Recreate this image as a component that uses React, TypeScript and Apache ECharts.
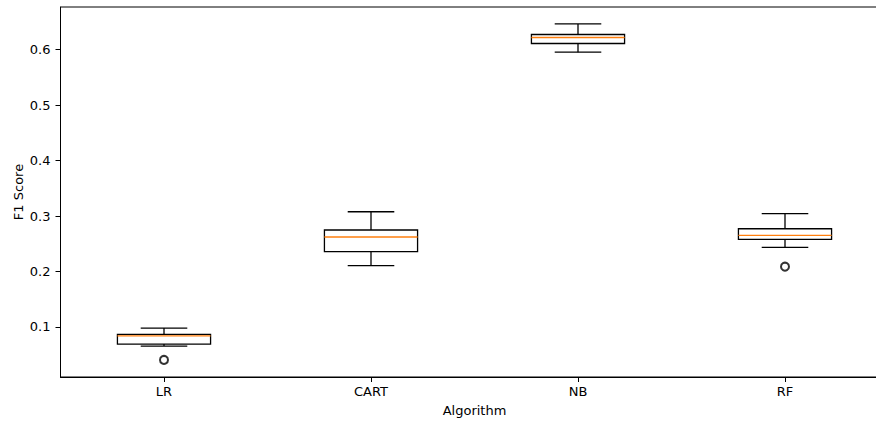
import React, { useEffect, useRef } from "react";
import * as echarts from "echarts";

const categories = ["LR", "CART", "NB", "RF"];
const whiskerLow = [0.0655, 0.2105, 0.5955, 0.2436];
const q1 = [0.069, 0.2357, 0.6112, 0.258];
const median = [0.0838, 0.2622, 0.622, 0.2652];
const q3 = [0.0865, 0.2748, 0.6274, 0.2771];
const whiskerHigh = [0.098, 0.3077, 0.6465, 0.3042];
const outliers: [number, number][] = [
  [0, 0.0405],
  [3, 0.2087],
];
const yTicks = [0.1, 0.2, 0.3, 0.4, 0.5, 0.6];
const yMin = 0.0097;
const yMax = 0.677;

const FONT = "DejaVu Sans";
const FS = 13;

export default function App() {
  const ref = useRef<HTMLDivElement>(null);
  useEffect(() => {
    document.body.style.margin = "0";
    const chart = echarts.init(ref.current!, null, { renderer: "svg" });
    const boxData = categories.map((_, i) => [
      i,
      whiskerLow[i],
      q1[i],
      median[i],
      q3[i],
      whiskerHigh[i],
    ]);
    chart.setOption({
      animation: false,
      backgroundColor: "#fff",
      grid: {
        left: 60.5,
        top: 7,
        width: 828,
        height: 370,
        outerBoundsMode: "none",
        containLabel: false,
        show: true,
        borderColor: "#000",
        borderWidth: 1,
        backgroundColor: "transparent",
      },
      xAxis: {
        type: "category",
        data: categories,
        boundaryGap: true,
        name: "Algorithm",
        nameLocation: "middle",
        nameGap: 27,
        nameMoveOverlap: false,
        nameTextStyle: { fontFamily: FONT, fontSize: FS, color: "#000", verticalAlign: "top" },
        axisLine: { show: true, lineStyle: { color: "#000", width: 1 } },
        axisTick: { show: true, alignWithLabel: true, length: 5, lineStyle: { color: "#000", width: 1 } },
        axisLabel: { fontFamily: FONT, fontSize: FS, color: "#000", margin: 8 },
        splitLine: { show: false },
      },
      yAxis: {
        type: "value",
        min: yMin,
        max: yMax,
        name: "F1 Score",
        nameLocation: "middle",
        nameGap: 36,
        nameRotate: 90,
        nameMoveOverlap: false,
        nameTextStyle: { fontFamily: FONT, fontSize: FS, color: "#000" },
        axisLine: { show: true, lineStyle: { color: "#000", width: 1 } },
        axisTick: {
          show: true,
          length: 5,
          customValues: yTicks,
          lineStyle: { color: "#000", width: 1 },
        },
        axisLabel: {
          fontFamily: FONT,
          fontSize: FS,
          color: "#000",
          margin: 10,
          customValues: yTicks,
          formatter: (v: number) => v.toFixed(1),
        },
        splitLine: { show: false },
      },
      series: [
        {
          type: "custom",
          data: boxData,
          encode: { x: 0, y: [1, 2, 3, 4, 5] },
          renderItem: (params: any, api: any) => {
            const idx = api.value(0);
            const band = api.size([1, 0])[0];
            const bw = band * 0.45;
            const cw = bw / 2;
            const pLo = api.coord([idx, api.value(1)]);
            const pQ1 = api.coord([idx, api.value(2)]);
            const pMed = api.coord([idx, api.value(3)]);
            const pQ3 = api.coord([idx, api.value(4)]);
            const pHi = api.coord([idx, api.value(5)]);
            const cx = pMed[0];
            const black = { stroke: "#000", lineWidth: 1.3, fill: "none" };
            return {
              type: "group",
              children: [
                { type: "line", shape: { x1: cx, y1: pQ1[1], x2: cx, y2: pLo[1] }, style: black },
                { type: "line", shape: { x1: cx, y1: pQ3[1], x2: cx, y2: pHi[1] }, style: black },
                { type: "line", shape: { x1: cx - cw / 2, y1: pLo[1], x2: cx + cw / 2, y2: pLo[1] }, style: black },
                { type: "line", shape: { x1: cx - cw / 2, y1: pHi[1], x2: cx + cw / 2, y2: pHi[1] }, style: black },
                {
                  type: "rect",
                  shape: { x: cx - bw / 2, y: pQ3[1], width: bw, height: pQ1[1] - pQ3[1] },
                  style: black,
                },
                {
                  type: "line",
                  shape: { x1: cx - bw / 2, y1: pMed[1], x2: cx + bw / 2, y2: pMed[1] },
                  style: { stroke: "#ff7f0e", lineWidth: 1.3 },
                },
              ],
            };
          },
        },
        {
          type: "scatter",
          data: outliers,
          symbol: "emptyCircle",
          symbolSize: 8,
          itemStyle: { color: "#000", borderColor: "#000", borderWidth: 1.2 },
        },
      ],
    });
    return () => chart.dispose();
  }, []);
  return (
    <div
      ref={ref}
      style={{ position: "absolute", left: 0, top: 0, width: 876, height: 421 }}
    />
  );
}
